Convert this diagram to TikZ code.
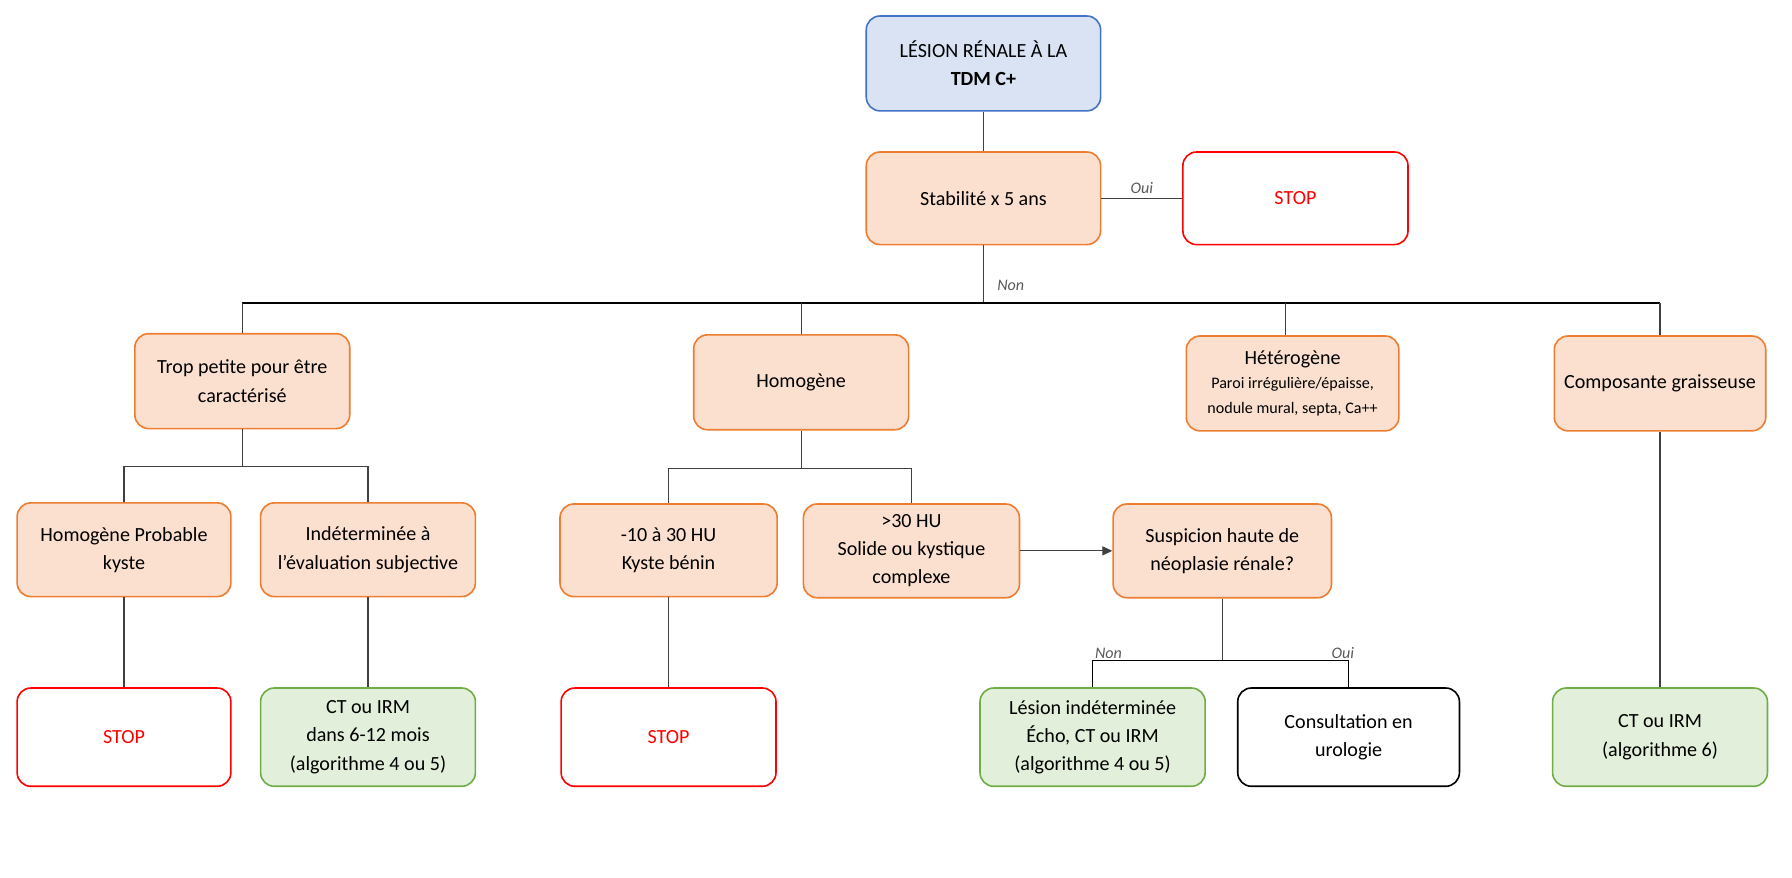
\documentclass[tikz,border=0pt]{standalone}
\usepackage{fontspec}
\setmainfont{Carlito}
\usetikzlibrary{arrows.meta}

\definecolor{bluefill}{HTML}{DAE3F3}
\definecolor{blueline}{HTML}{4472C4}
\definecolor{orangefill}{HTML}{FBE0D0}
\definecolor{orangeline}{HTML}{ED7D31}
\definecolor{greenfill}{HTML}{E2EFDA}
\definecolor{greenline}{HTML}{70AD47}
\definecolor{stopred}{HTML}{FF0000}
\definecolor{linegray}{HTML}{404040}
\definecolor{labelgray}{HTML}{595959}

\tikzset{
  box/.style={draw, rounded corners=0.24cm, align=center, line width=0.8pt,
    minimum width=3.76cm, minimum height=1.66cm, inner sep=2pt,
    font=\fontsize{10}{14}\selectfont},
  startbox/.style={box, draw=blueline, fill=bluefill, minimum width=4.1cm},
  stepbox/.style={box, draw=orangeline, fill=orangefill},
  stopbox/.style={box, draw=stopred, text=stopred, minimum height=1.72cm},
  nextbox/.style={box, draw=greenline, fill=greenfill, minimum height=1.72cm},
  endbox/.style={box, draw=black, minimum height=1.72cm},
  link/.style={draw=linegray, line width=0.6pt},
  answer/.style={font=\itshape\fontsize{8}{10}\selectfont, text=labelgray, inner sep=1pt},
}

\begin{document}
\begin{tikzpicture}
    \useasboundingbox (0,0) rectangle (31.36,-15.36);

    % Départ
    \node[startbox] (lesion) at (17.21,-1.11) {LÉSION RÉNALE À LA\\\textbf{TDM C+}};
    \node[stepbox, minimum width=4.1cm, minimum height=1.62cm] (stab) at (17.21,-3.47) {Stabilité x 5 ans};
    \node[stopbox, minimum width=3.94cm, minimum height=1.62cm] (stopa) at (22.67,-3.47) {STOP};
    \draw[link] (lesion) -- (stab);
    \draw[link] (stab) -- node[answer, above=1pt] (ouia) {Oui} (stopa);

    % Bus principal
    \coordinate (bus) at (17.21,-5.30);
    \node[answer, right, xshift=0.2cm] (nona) at (17.21,-5.0) {Non};
    \draw[link] (stab) -- (bus);

    % Quatre catégories
    \node[stepbox] (trop) at (4.24,-6.67) {Trop petite pour être\\caractérisé};
    \node[stepbox] (homo) at (14.02,-6.69) {Homogène};
    \node[stepbox, minimum width=3.72cm] (hetero) at (22.62,-6.71)
        {Hétérogène\\[-2pt]{\fontsize{8}{11.4}\selectfont Paroi irrégulière/épaisse,}\\[-2pt]{\fontsize{8}{11.4}\selectfont nodule mural, septa, Ca++}};
    \node[stepbox, minimum width=3.70cm] (comp) at (29.05,-6.71) {Composante graisseuse};
    \draw[line width=0.7pt] (trop.north |- bus) -- (comp.north |- bus);
    \draw[link] (trop.north) -- (trop.north |- bus);
    \draw[link] (homo.north) -- (homo.north |- bus);
    \draw[link] ([xshift=-0.12cm]hetero.north) -- ([xshift=-0.12cm]hetero.north |- bus);
    \draw[link] (comp.north) -- (comp.north |- bus);

    % Trop petite
    \coordinate (tropfork) at (4.24,-8.16);
    \node[stepbox, minimum width=3.74cm, minimum height=1.64cm] (probable) at (2.17,-9.62) {Homogène Probable\\kyste};
    \node[stepbox, minimum height=1.64cm] (indet) at (6.44,-9.62) {Indéterminée à\\l’évaluation subjective};
    \draw[link] (trop) -- (tropfork);
    \draw[link] (probable.north) |- (tropfork) -| (indet.north);
    \node[stopbox, minimum width=3.74cm] (stopb) at (2.17,-12.9) {STOP};
    \node[nextbox] (suivi) at (6.44,-12.9) {CT ou IRM\\dans 6-12 mois\\(algorithme 4 ou 5)};
    \draw[link] (probable) -- (stopb);
    \draw[link] (indet) -- (suivi);

    % Homogène
    \coordinate (homofork) at (14.02,-8.20);
    \node[stepbox, minimum width=3.80cm, minimum height=1.62cm] (benin) at (11.70,-9.63) {-10 à 30 HU\\Kyste bénin};
    \node[stepbox, minimum width=3.78cm, minimum height=1.64cm] (solide) at (15.95,-9.64) {>30 HU\\Solide ou kystique\\complexe};
    \draw[link] (homo) -- (homofork);
    \draw[link] (benin.north) |- (homofork) -| (solide.north);
    \node[stopbox] (stopc) at (11.70,-12.9) {STOP};
    \draw[link] (benin) -- (stopc);

    % Suspicion
    \node[stepbox, minimum width=3.82cm, minimum height=1.64cm] (susp) at (21.39,-9.64) {Suspicion haute de\\néoplasie rénale?};
    \draw[link, -{Triangle[length=5pt, width=4.5pt]}] (solide) -- (susp);
    \coordinate (suspfork) at (21.39,-11.56);
    \node[nextbox, minimum width=3.94cm] (indetb) at (19.12,-12.9) {Lésion indéterminée\\Écho, CT ou IRM\\(algorithme 4 ou 5)};
    \node[endbox, minimum width=3.88cm] (uro) at (23.60,-12.9) {Consultation en\\urologie};
    \draw[link] (susp) -- (suspfork);
    \draw[link, draw=black] (indetb.north) |- (suspfork) -| (uro.north);
    \node[answer, above right] (nonb) at (indetb.north |- suspfork) {Non};
    \node[answer, above, xshift=-0.1cm] (ouib) at (uro.north |- suspfork) {Oui};

    % Graisse
    \node[nextbox] (algo) at (29.05,-12.9) {CT ou IRM\\(algorithme 6)};
    \draw[link] (comp) -- (algo);

\end{tikzpicture}
\end{document}
